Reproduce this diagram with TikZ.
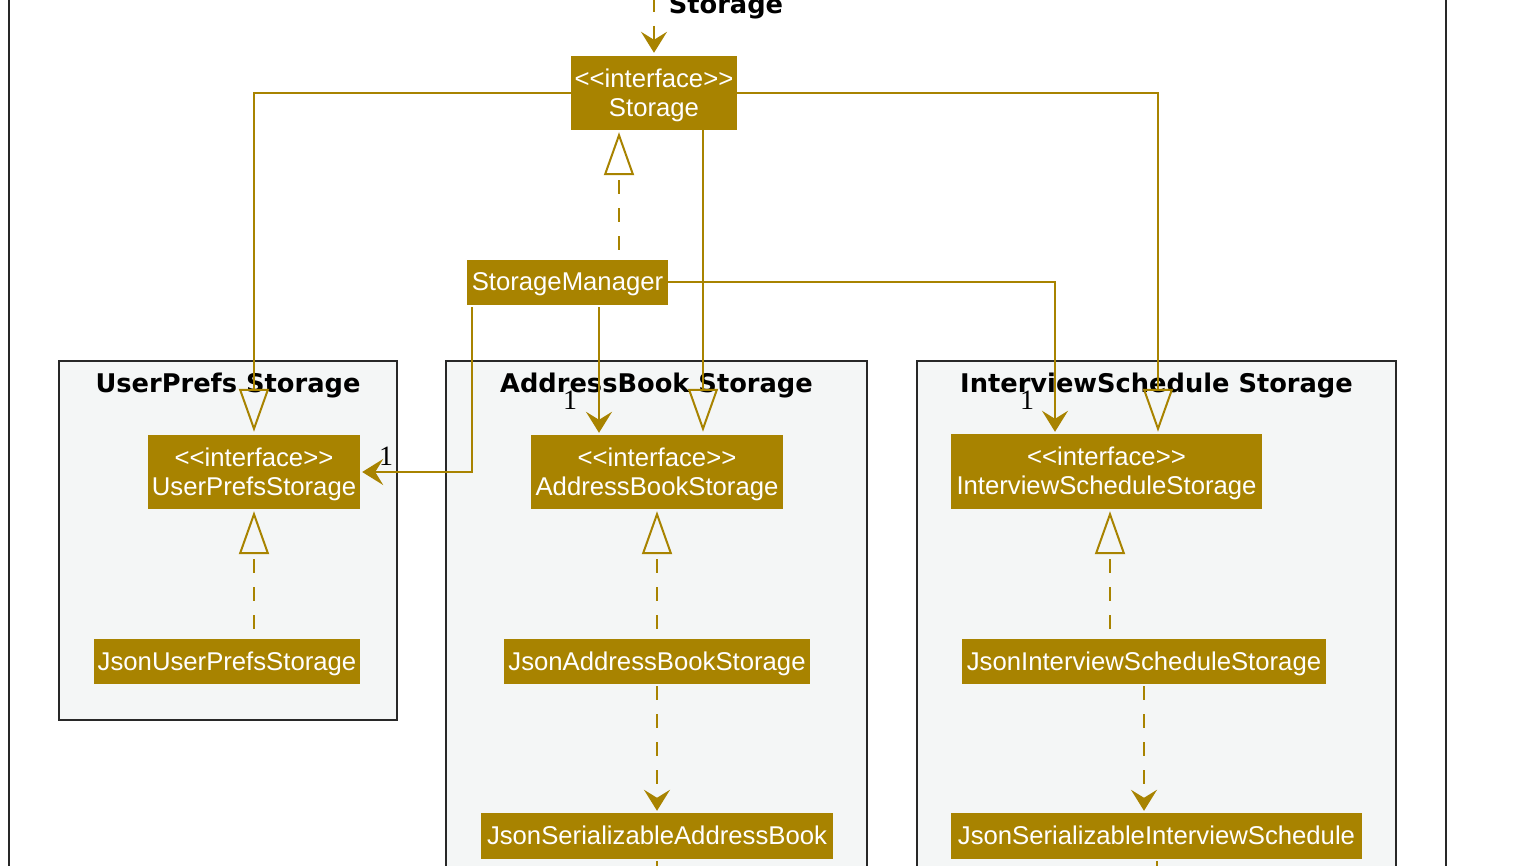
\documentclass[tikz,border=0pt]{standalone}
\usepackage{fontspec}
\setmainfont{Liberation Sans}
\newfontfamily\titlefont{DejaVu Sans}
\newfontfamily\numfont{Liberation Serif}
\usetikzlibrary{arrows.meta}
\definecolor{gold}{RGB}{168,131,0}
\definecolor{pkgfill}{RGB}{244,246,246}
\definecolor{framecol}{RGB}{40,40,40}
\begin{document}
\begin{tikzpicture}[x=1pt,y=-1pt,
  cls/.style={fill=gold,text=white,inner sep=0pt,align=center,text depth=1.5pt,font=\fontsize{25.7}{29}\selectfont},
  pkg/.style={draw=framecol,line width=2.5pt,fill=pkgfill},
  conn/.style={draw=gold,line width=2pt},
  dsh/.style={conn,dash pattern=on 14pt off 14pt},
  gen/.style={-{Triangle[open,length=43pt,width=30pt]}},
  dep/.style={-{Stealth[length=21pt,width=26pt,inset=8pt]}},
  ptitle/.style={font=\titlefont\bfseries\fontsize{25.7}{30}\selectfont,anchor=base,inner sep=0pt},
  mult/.style={font=\numfont\fontsize{28}{30}\selectfont,text=black,inner sep=0pt}
]
\useasboundingbox (0,0) rectangle (1532,866);
\clip (0,0) rectangle (1532,866);
\fill[white] (0,0) rectangle (1532,866);
% outer frame
\draw[draw=framecol,line width=2.5pt] (9,-40) rectangle (1446,920);
\node[ptitle] (ttl) at (726,14) {Storage};
% packages
\draw[pkg] (59,361) rectangle (397,720);
\draw[pkg] (446,361) rectangle (867,920);
\draw[pkg] (917,361) rectangle (1396,920);
\node[ptitle] (tU) at (228,393) {UserPrefs Storage};
\node[ptitle] (tA) at (656.5,393) {AddressBook Storage};
\node[ptitle] (tI) at (1156.5,393) {InterviewSchedule Storage};
% classes
\node[cls,minimum width=166pt,minimum height=74pt] (storage) at (654,93) {<\kern0pt<interface>\kern0pt>\\Storage};
\node[cls,minimum width=201pt,minimum height=45pt] (sm) at (567.5,282.5) {StorageManager};
\node[cls,minimum width=212pt,minimum height=74pt] (ups) at (254,472) {<\kern0pt<interface>\kern0pt>\\UserPrefsStorage};
\node[cls,minimum width=266pt,minimum height=45pt] (jups) at (227,661.5) {JsonUserPrefsStorage};
\node[cls,minimum width=252pt,minimum height=74pt] (abs) at (657,472) {<\kern0pt<interface>\kern0pt>\\AddressBookStorage};
\node[cls,minimum width=306pt,minimum height=45pt] (jabs) at (657,661.5) {JsonAddressBookStorage};
\node[cls,minimum width=352pt,minimum height=46pt] (jsab) at (657,836) {JsonSerializableAddressBook};
\node[cls,minimum width=311pt,minimum height=75pt] (iss) at (1106.5,471.5) {<\kern0pt<interface>\kern0pt>\\InterviewScheduleStorage};
\node[cls,minimum width=364pt,minimum height=45pt] (jiss) at (1144,661.5) {JsonInterviewScheduleStorage};
\node[cls,minimum width=411pt,minimum height=46pt] (jsis) at (1156.5,836) {JsonSerializableInterviewSchedule};
% connectors
\coordinate (topin) at (654,-30);
\draw[dsh,dep,shorten >=3pt] (topin) -- (storage.north);
\draw[conn,gen,shorten >=3pt] (storage.west) -| (ups.north);
\draw[conn,gen,shorten >=2pt] (storage.east) -| ([xshift=51.5pt]iss.north);
\draw[conn,gen,shorten >=3pt] ([xshift=49pt]storage.south) -- ([xshift=46pt]abs.north);
\draw[dsh,gen,shorten >=2pt,shorten <=10pt] ([xshift=51.5pt]sm.north) -- ([xshift=-35pt]storage.south);
\draw[conn,dep,shorten >=2pt] (sm.east) -| ([xshift=-51.5pt]iss.north);
\draw[conn,dep,shorten >=2pt,shorten <=2pt] ([xshift=31.5pt]sm.south) -- ([xshift=-58pt]abs.north);
\draw[conn,dep,shorten >=2pt,shorten <=2pt] ([xshift=-95.5pt]sm.south) |- (ups.east);
\node[mult] (m1) at (570,400) {1};
\node[mult] (m2) at (1027,400) {1};
\node[mult] (m3) at (386,456) {1};
\draw[dsh,gen,shorten >=2pt,shorten <=10pt] ([xshift=27pt]jups.north) -- (ups.south);
\draw[dsh,gen,shorten >=2pt,shorten <=10pt] (jabs.north) -- (abs.south);
\draw[dsh,gen,shorten >=2pt,shorten <=10pt] ([xshift=-34pt]jiss.north) -- ([xshift=3.5pt]iss.south);
\draw[dsh,dep,shorten >=2pt,shorten <=2pt] (jabs.south) -- (jsab.north);
\draw[dsh,dep,shorten >=2pt,shorten <=2pt] (jiss.south) -- ([xshift=-12.5pt]jsis.north);
\coordinate (abot) at (657,900);
\coordinate (ibot) at (1156.5,900);
\draw[dsh,shorten <=2pt] (jsab.south) -- (abot);
\draw[dsh,shorten <=2pt] (jsis.south) -- (ibot);
\end{tikzpicture}
\end{document}
